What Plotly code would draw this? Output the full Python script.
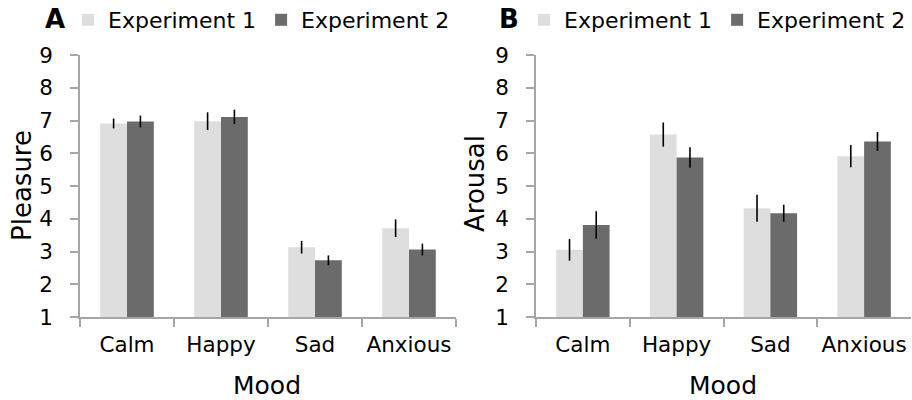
import plotly.graph_objects as go

# Mood categories and mean ratings (with standard errors) for both experiments
moods = ["Calm", "Happy", "Sad", "Anxious"]

pleasure_exp1 = [6.91, 6.98, 3.13, 3.71]
pleasure_exp1_err = [0.15, 0.27, 0.19, 0.27]
pleasure_exp2 = [6.97, 7.11, 2.73, 3.06]
pleasure_exp2_err = [0.18, 0.22, 0.15, 0.18]

arousal_exp1 = [3.05, 6.57, 4.32, 5.91]
arousal_exp1_err = [0.33, 0.37, 0.41, 0.34]
arousal_exp2 = [3.81, 5.87, 4.17, 6.36]
arousal_exp2_err = [0.42, 0.31, 0.26, 0.29]

y_ticks = [1, 2, 3, 4, 5, 6, 7, 8, 9]

FONT = "DejaVu Sans"
LIGHT = "#dedede"
DARK = "#6b6b6b"
AXIS = "#a6a6a6"

W, H = 912, 400
M_TOP, M_BOT = 55, 83
PLOT_H = H - M_TOP - M_BOT


def px_x(x):
    return x / W


def px_y(y):
    # pixel row -> paper coordinate (0 at bottom of plot area, 1 at top)
    return (H - M_BOT - y) / PLOT_H


fig = go.Figure()


def add_pair(xa, ya, legend, v1, e1, v2, e2):
    fig.add_trace(go.Bar(
        x=moods, y=v1, name="Experiment 1", marker=dict(color=LIGHT, line=dict(width=0)),
        error_y=dict(type="data", array=e1, color="black", thickness=1.6, width=0),
        xaxis=xa, yaxis=ya, legend=legend, base=0,
    ))
    fig.add_trace(go.Bar(
        x=moods, y=v2, name="Experiment 2", marker=dict(color=DARK, line=dict(width=0)),
        error_y=dict(type="data", array=e2, color="black", thickness=1.6, width=0),
        xaxis=xa, yaxis=ya, legend=legend, base=0,
    ))


add_pair("x", "y", "legend", pleasure_exp1, pleasure_exp1_err, pleasure_exp2, pleasure_exp2_err)
add_pair("x2", "y2", "legend2", arousal_exp1, arousal_exp1_err, arousal_exp2, arousal_exp2_err)

xaxis_style = dict(
    type="category", range=[-0.5, 3.5], showline=True, linecolor=AXIS, linewidth=1.5,
    ticks="outside", tickson="boundaries", ticklen=8, tickcolor=AXIS, tickwidth=1.5,
    tickfont=dict(family=FONT, size=21.5, color="black"), showgrid=False, zeroline=False,
    ticklabelstandoff=7, tickangle=0, automargin=False, fixedrange=True,
)
yaxis_style = dict(
    range=[1, 9], tickvals=y_ticks, showline=True, linecolor=AXIS, linewidth=1.5,
    ticks="outside", ticklen=8, tickcolor=AXIS, tickwidth=1.5,
    tickfont=dict(family=FONT, size=21.5, color="black"), showgrid=False, zeroline=False,
    ticklabelstandoff=13, automargin=False, domain=[0, 1],
)

legend_style = dict(
    orientation="h", font=dict(family=FONT, size=22, color="black"),
    yanchor="middle", xanchor="left", bgcolor="rgba(0,0,0,0)",
    itemclick=False, itemdoubleclick=False, tracegroupgap=0,
)

fig.update_layout(
    width=W, height=H,
    margin=dict(l=0, r=0, t=M_TOP, b=M_BOT, autoexpand=False),
    plot_bgcolor="white", paper_bgcolor="white",
    barmode="group", bargap=0.43, bargroupgap=0,
    font=dict(family=FONT, color="black"),
    xaxis=dict(domain=[px_x(80), px_x(456)], anchor="y", **xaxis_style),
    xaxis2=dict(domain=[px_x(536), px_x(911)], anchor="y2", **xaxis_style),
    yaxis=dict(anchor="x", **yaxis_style),
    yaxis2=dict(anchor="x2", **yaxis_style),
    legend=dict(x=px_x(68), y=px_y(20), **legend_style),
    legend2=dict(x=px_x(524), y=px_y(20), **legend_style),
    showlegend=True,
)

annotations = [
    dict(text="<b>A</b>", x=px_x(43), y=px_y(19), font=dict(size=26)),
    dict(text="<b>B</b>", x=px_x(497), y=px_y(19), font=dict(size=26)),
    dict(text="Pleasure", x=px_x(22), y=px_y(186), font=dict(size=26), textangle=-90,
         xanchor="center"),
    dict(text="Arousal", x=px_x(475), y=px_y(184), font=dict(size=26), textangle=-90,
         xanchor="center"),
    dict(text="Mood", x=px_x(267), y=px_y(385), font=dict(size=25), xanchor="center"),
    dict(text="Mood", x=px_x(723), y=px_y(385), font=dict(size=25), xanchor="center"),
]
for a in annotations:
    a.setdefault("xanchor", "left")
    a.update(xref="paper", yref="paper", yanchor="middle", showarrow=False)
    a["font"] = dict(family=FONT, color="black", **a["font"])
fig.update_layout(annotations=annotations)

fig.write_html("out.html", config={"displayModeBar": False})
